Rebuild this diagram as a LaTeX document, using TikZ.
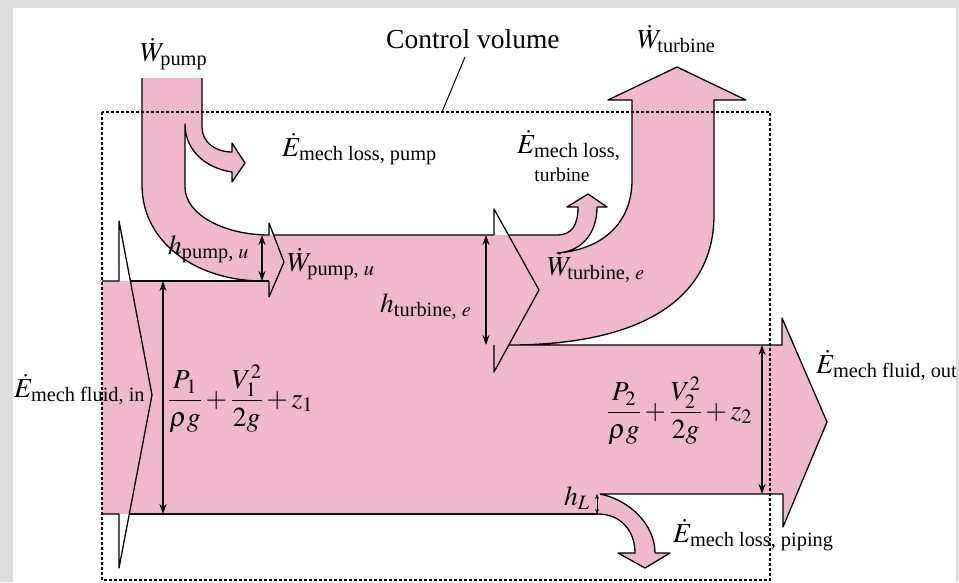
\documentclass[tikz,border=0pt]{standalone}
\usepackage{amsmath}
\usepackage{mathptmx}
\usepackage[no-math]{fontspec}
\setmainfont{Liberation Serif}
\usetikzlibrary{arrows.meta}
\definecolor{flowpink}{RGB}{240,184,204}
\definecolor{framegray}{RGB}{221,221,221}
\begin{document}
\begin{tikzpicture}[x=1pt,y=-1pt,
  outline/.style={draw=black,line width=1.3pt,line join=round},
  dimarrow/.style={line width=1.1pt,{Stealth[length=10pt,width=7pt]}-{Stealth[length=10pt,width=7pt]}},
  smalldim/.style={line width=0.9pt,{Stealth[length=5pt,width=4pt]}-{Stealth[length=5pt,width=4pt]}},
  cvline/.style={line width=1.1pt,dash pattern=on 3pt off 2pt},
  lbl/.style={inner sep=0pt,anchor=base west,font=\fontsize{27.5}{33}\selectfont},
  sublbl/.style={inner sep=0pt,anchor=base,font=\fontsize{19.5}{22}\selectfont},
]
\useasboundingbox (0,0) rectangle (959,582);
\fill[framegray] (0,0) rectangle (959,582);
\fill[white] (13,8) rectangle (956,582);

% ---------- pink fills ----------
\fill[flowpink] (102,281) rectangle (270,514);
\fill[flowpink] (268,235) rectangle (560,514);
\fill[flowpink] (494,345) rectangle (783,494);
\fill[flowpink] (494,494) rectangle (599,514);
\fill[flowpink] (782,318) -- (827,422) -- (783,527) -- cycle;
% pump flow
\fill[flowpink] (142,78) -- (202,78) -- (202,127) .. controls (202,142) and (215,152) .. (232,152)
  -- (232,143) -- (245,163) -- (232,182) -- (232,172) .. controls (205,168) and (185,150) .. (185,124)
  -- (185,187) .. controls (185,215) and (225,235) .. (269,235) -- (269,281) -- (262,281)
  .. controls (200,281) and (142,245) .. (142,185) -- cycle;
% turbine flow
\fill[flowpink] (505,235) -- (557,235) .. controls (572,235) and (578,225) .. (578,207)
  -- (567,207) -- (588,194) -- (607,207) -- (597,207) .. controls (597,235) and (580,252) .. (557,253)
  .. controls (600,250) and (632,225) .. (632,180) -- (632,100) -- (608,100) -- (677,67) -- (746,100)
  -- (714,100) -- (714,215) .. controls (714,300) and (640,345) .. (509,345) -- cycle;
% piping loss
\fill[flowpink] (600,494) .. controls (630,500) and (655,525) .. (655,553) -- (670,553) -- (645,568)
  -- (618,553) -- (635,553) .. controls (635,530) and (620,514) .. (598,514) -- cycle;

% ---------- outlines ----------
\draw[outline] (102,281) -- (119,281) -- (119,221) -- (152,395) -- (119,568) -- (119,514) -- (102,514);
\draw[outline] (130,281) -- (269,281);
\draw[outline] (129,514) -- (598,514);
\draw[outline] (142,78) -- (142,185) .. controls (142,245) and (200,281) .. (262,281);
\draw[outline] (202,78) -- (202,127) .. controls (202,142) and (215,152) .. (232,152)
  -- (232,143) -- (245,163) -- (232,182) -- (232,172) .. controls (205,168) and (185,150) .. (185,124)
  -- (185,187) .. controls (185,215) and (225,235) .. (269,235) -- (269,223) -- (284,262) -- (269,297) -- (269,281);
\draw[outline] (274,235) -- (494,235) -- (494,209) -- (539,290) -- (494,372) -- (494,345);
\draw[outline] (508,235) -- (557,235) .. controls (572,235) and (578,225) .. (578,207)
  -- (567,207) -- (588,194) -- (607,207) -- (597,207) .. controls (597,235) and (580,252) .. (557,253)
  .. controls (600,250) and (632,225) .. (632,180) -- (632,100) -- (608,100) -- (677,67) -- (746,100)
  -- (714,100) -- (714,215) .. controls (714,300) and (640,345) .. (509,345)
  -- (782,345) -- (782,318) -- (827,422) -- (783,527) -- (783,494) -- (600,494)
  .. controls (630,500) and (655,525) .. (655,553) -- (670,553) -- (645,568) -- (618,553) -- (635,553)
  .. controls (635,530) and (620,514) .. (598,514);

% ---------- dimension arrows ----------
\coordinate (hpu1) at (262,235); \coordinate (hpu2) at (262,281);
\coordinate (in1) at (163,281);  \coordinate (in2) at (163,514);
\coordinate (hte1) at (486,235); \coordinate (hte2) at (486,345);
\coordinate (out1) at (762,345); \coordinate (out2) at (762,494);
\coordinate (hl1) at (597,494);  \coordinate (hl2) at (597,514);
\draw[dimarrow] (hpu1) -- (hpu2);
\draw[dimarrow] (in1) -- (in2);
\draw[dimarrow] (hte1) -- (hte2);
\draw[dimarrow] (out1) -- (out2);
\draw[smalldim] (hl1) -- (hl2);

% ---------- control volume ----------
\draw[cvline] (102,112) rectangle (770,580);
\coordinate (cvlead) at (465,57);
\coordinate (cvtop) at (442,112);
\draw[line width=1pt] (cvlead) -- (cvtop);

% ---------- labels ----------
\node[lbl] (cvlabel) at (386,48) {Control volume};
\node[lbl] (wpump) at (140,61) {$\dot{W}_{\text{pump}}$};
\node[lbl] (wturb) at (637,48) {$\dot{W}_{\text{turbine}}$};
\node[lbl] (elp) at (282,156) {$\dot{E}_{\text{mech loss, pump}}$};
\node[lbl] (elt) at (517,153) {$\dot{E}_{\text{mech loss,}}$};
\node[sublbl] (elt2) at (562,181) {turbine};
\node[lbl] (hpu) at (168,254) {$h_{\text{pump, }u}$};
\node[lbl] (wpu) at (287,271) {$\dot{W}_{\text{pump, }u}$};
\node[lbl] (hte) at (380,312) {$h_{\text{turbine, }e}$};
\node[lbl] (wte) at (547,275) {$\dot{W}_{\text{turbine, }e}$};
\node[lbl] (efin) at (14,397) {$\dot{E}_{\text{mech fluid, in}}$};
\node[lbl,anchor=west] (head1) at (168,399) {$\dfrac{P_1}{\rho g}+\dfrac{V_1^2}{2g}+z_1$};
\node[lbl,anchor=west] (head2) at (607,411) {$\dfrac{P_2}{\rho g}+\dfrac{V_2^2}{2g}+z_2$};
\node[lbl] (efout) at (816,373) {$\dot{E}_{\text{mech fluid, out}}$};
\node[lbl] (hl) at (564,505) {$h_L$};
\node[lbl] (elpipe) at (673,542) {$\dot{E}_{\text{mech loss, piping}}$};
\end{tikzpicture}
\end{document}
